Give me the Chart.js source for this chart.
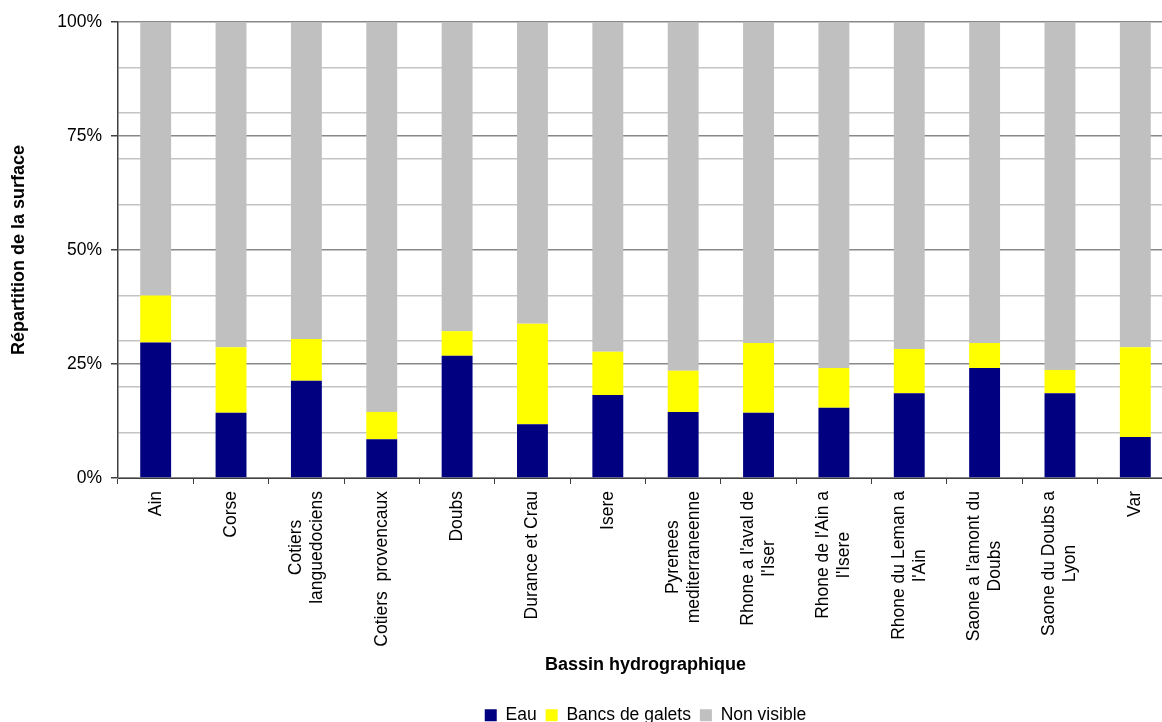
<!DOCTYPE html>
<html>
<head>
<meta charset="utf-8">
<script src="https://cdn.jsdelivr.net/npm/chart.js@4"></script>
<style>
html,body{margin:0;padding:0;overflow:hidden;background:#fff;}
canvas{display:block;}
</style>
</head>
<body>
<canvas id="c" width="1175" height="734"></canvas>
<script>
const categories = [
  "Ain",
  "Corse",
  ["Cotiers", "languedociens"],
  "Cotiers  provencaux",
  "Doubs",
  "Durance et Crau",
  "Isere",
  ["Pyrenees", "mediterraneenne"],
  ["Rhone a l'aval de", "l'Iser"],
  ["Rhone de l'Ain a", "l'Isere"],
  ["Rhone du Leman a", "l'Ain"],
  ["Saone a l'amont du", "Doubs"],
  ["Saone du Doubs a", "Lyon"],
  "Var"
];
const eau        = [29.7, 14.3, 21.3,  8.5, 26.8, 11.8, 18.2, 14.5, 14.3, 15.4, 18.6, 24.1, 18.6,  9.0];
const bancs      = [10.3, 14.4,  9.2,  6.0,  5.4, 22.0,  9.5,  9.0, 15.3,  8.7,  9.7,  5.5,  5.1, 19.7];
const nonVisible = [60.0, 71.3, 69.5, 85.5, 67.8, 66.2, 72.3, 76.5, 70.4, 75.9, 71.7, 70.4, 76.3, 71.3];
const seriesNames = ["Eau", "Bancs de galets", "Non visible"];
const yTickValues = [0, 25, 50, 75, 100];
const yTickLabels = ["0%", "25%", "50%", "75%", "100%"];

const FONT = '"Liberation Sans", Arial, sans-serif';
Chart.defaults.font.family = FONT;
Chart.defaults.color = '#000';

const MAJOR = '#888888';
const MINOR = '#c4c4c4';
const AXIS = '#404040';
const NONE = 'rgba(0,0,0,0)';

const xLabelPlugin = {
  id: 'xLabels',
  afterDraw(chart) {
    const ctx = chart.ctx, xs = chart.scales.x, area = chart.chartArea;
    ctx.save();
    ctx.font = '17.5px ' + FONT;
    ctx.fillStyle = '#000';
    ctx.textBaseline = 'middle';
    ctx.textAlign = 'center';
    const L = 21;
    const yTop = area.bottom + 13;
    chart.data.labels.forEach((lab, i) => {
      const lines = Array.isArray(lab) ? lab : [lab];
      const x = xs.getPixelForTick(i);
      const maxW = Math.max(...lines.map(l => ctx.measureText(l).width));
      lines.forEach((ln, j) => {
        const cx = x + (j - (lines.length - 1) / 2) * L;
        ctx.save();
        ctx.translate(cx, yTop);
        ctx.rotate(-Math.PI / 2);
        ctx.fillText(ln, -maxW / 2, 0);
        ctx.restore();
      });
    });
    ctx.restore();
  }
};

new Chart(document.getElementById('c'), {
  type: 'bar',
  data: {
    labels: categories,
    datasets: [
      { label: seriesNames[0], data: eau, backgroundColor: '#000080' },
      { label: seriesNames[1], data: bancs, backgroundColor: '#FFFF00' },
      { label: seriesNames[2], data: nonVisible, backgroundColor: '#C0C0C0' }
    ]
  },
  options: {
    responsive: false,
    animation: false,
    devicePixelRatio: 1,
    datasets: { bar: { barPercentage: 0.41, categoryPercentage: 1.0, borderWidth: 0 } },
    layout: { padding: { top: 22, left: 0, right: 2, bottom: 0 } },
    plugins: {
      legend: {
        position: 'bottom',
        fullSize: false,
        labels: { boxWidth: 12, boxHeight: 12, padding: 9, color: '#000', font: { size: 17.5, family: FONT } }
      },
      tooltip: { enabled: false }
    },
    scales: {
      x: {
        stacked: true,
        grid: { display: true, drawOnChartArea: false, drawTicks: true, tickLength: 6, tickColor: AXIS, offset: true },
        border: { display: true, color: AXIS, width: 1 },
        ticks: { display: false },
        title: { display: true, text: 'Bassin hydrographique', color: '#000', font: { size: 18, weight: 'bold', family: FONT }, padding: { top: 0, bottom: 21.7 } },
        afterFit: s => { s.height = 219.5; }
      },
      y: {
        stacked: true,
        min: 0,
        max: 100,
        grid: {
          drawTicks: true,
          tickLength: 7,
          color: c => { const v = Math.round(c.tick.value); return v % 25 === 0 ? MAJOR : (v % 10 === 0 ? MINOR : NONE); },
          tickColor: c => { const v = Math.round(c.tick.value); return v % 25 === 0 ? AXIS : NONE; },
          lineWidth: c => { const v = Math.round(c.tick.value); return v % 25 === 0 ? 1.5 : 1.5; }
        },
        border: { display: true, color: AXIS, width: 1.5 },
        ticks: {
          stepSize: 5,
          autoSkip: false,
          maxTicksLimit: 30,
          padding: 9,
          color: '#000',
          font: { size: 17.5, family: FONT },
          callback: v => { const k = yTickValues.indexOf(Math.round(v)); return k >= 0 ? yTickLabels[k] : ''; }
        },
        title: { display: true, text: 'Répartition de la surface', color: '#000', font: { size: 18, weight: 'bold', family: FONT }, padding: { top: 8, bottom: 0 } },
        afterFit: s => { s.width = 118; }
      }
    }
  },
  plugins: [xLabelPlugin]
});
</script>
</body>
</html>
